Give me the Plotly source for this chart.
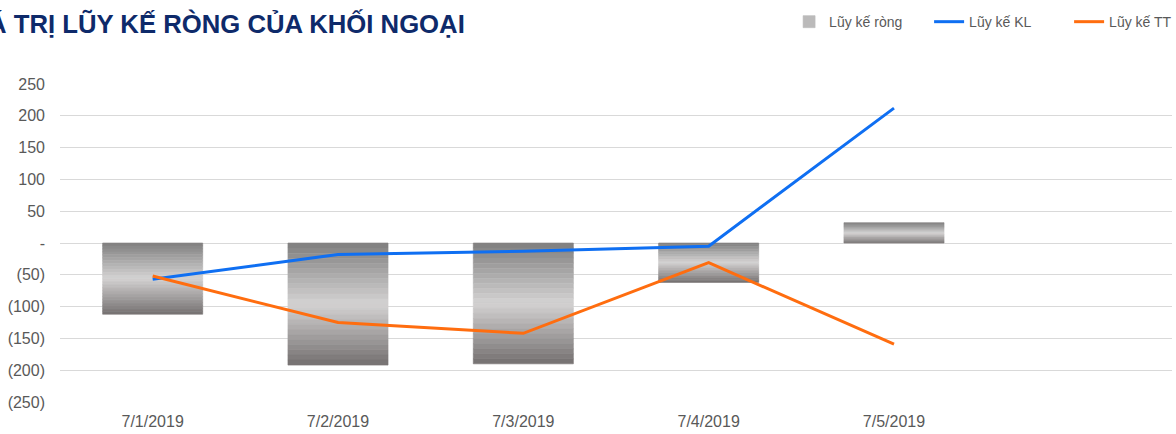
import plotly.graph_objects as go

dates = ["7/1/2019", "7/2/2019", "7/3/2019", "7/4/2019", "7/5/2019"]
luy_ke_rong = [-112, -192, -190, -62, 32]
luy_ke_kl = [-57, -18, -13, -5, 212]
luy_ke_tt = [-52, -125, -142, -31, -159]

y_tickvals = [250, 200, 150, 100, 50, 0, -50, -100, -150, -200, -250]
y_ticktext = ["250", "200", "150", "100", "50", "-", "(50)", "(100)", "(150)", "(200)", "(250)"]

title_text = "GIÁ TRỊ LŨY KẾ RÒNG CỦA KHỐI NGOẠI"

fig = go.Figure()

# Bars drawn as stacked horizontal bands to imitate the metallic gradient fill
N = 24
dark_top = (127, 127, 127)
light_mid = (212, 210, 210)
dark_bot = (116, 112, 112)


def band_color(t):
    if t < 0.5:
        a, b, f = dark_top, light_mid, t / 0.5
    else:
        a, b, f = light_mid, dark_bot, (t - 0.5) / 0.5
    c = [round(a[i] + (b[i] - a[i]) * f) for i in range(3)]
    return "rgb(%d,%d,%d)" % tuple(c)


for k in range(N):
    bases = [v * k / N for v in luy_ke_rong]
    heights = [v / N for v in luy_ke_rong]
    colors = []
    for v in luy_ke_rong:
        t = (k + 0.5) / N
        if v > 0:
            t = 1 - t
        colors.append(band_color(t))
    fig.add_trace(go.Bar(
        x=dates, y=heights, base=bases,
        marker=dict(color=colors, line=dict(width=0.6, color=colors)),
        width=0.54,
        name="Lũy kế ròng",
        legendgroup="rong",
        showlegend=(k == N // 2 - 4),
        legendrank=1,
        hoverinfo="skip",
    ))

fig.add_trace(go.Scatter(
    x=dates, y=luy_ke_kl, mode="lines", name="Lũy kế KL",
    line=dict(color="#0F6FF2", width=3), legendrank=2,
))
fig.add_trace(go.Scatter(
    x=dates, y=luy_ke_tt, mode="lines", name="Lũy kế TT",
    line=dict(color="#FF6D0F", width=3), legendrank=3,
))

fig.add_annotation(
    text="<b>" + title_text + "</b>",
    xref="paper", yref="paper", x=-0.0905, y=1.19,
    xanchor="left", yanchor="middle", showarrow=False,
    font=dict(family="Liberation Sans, Arial, sans-serif", size=25.7, color="#0E2A6A"),
)

fig.update_layout(
    width=1176, height=434,
    margin=dict(l=60, r=4, t=84, b=30),
    paper_bgcolor="white", plot_bgcolor="white",
    barmode="overlay",
    showlegend=True,
    legend=dict(
        orientation="h", x=0.671, xanchor="left", xref="container",
        y=0.986, yanchor="top", yref="container",
        font=dict(family="Liberation Sans, Arial, sans-serif", size=14, color="#595959"),
        bgcolor="rgba(0,0,0,0)", entrywidth=95, traceorder="normal",
    ),
    xaxis=dict(
        type="category", range=[-0.5, 5.5], showgrid=False, zeroline=False,
        showline=False, ticks="",
        tickfont=dict(family="Liberation Sans, Arial, sans-serif", size=16, color="#595959"),
        ticklabelstandoff=8,
    ),
    yaxis=dict(
        range=[-250, 250], tickvals=y_tickvals, ticktext=y_ticktext,
        showgrid=True, gridcolor="#D9D9D9", gridwidth=1,
        zeroline=False, showline=False, ticks="",
        tickfont=dict(family="Liberation Sans, Arial, sans-serif", size=16, color="#595959"),
        ticklabelstandoff=14,
    ),
)

fig.write_html("out.html", config={"displayModeBar": False},
               post_script="document.body.style.margin='0';")
